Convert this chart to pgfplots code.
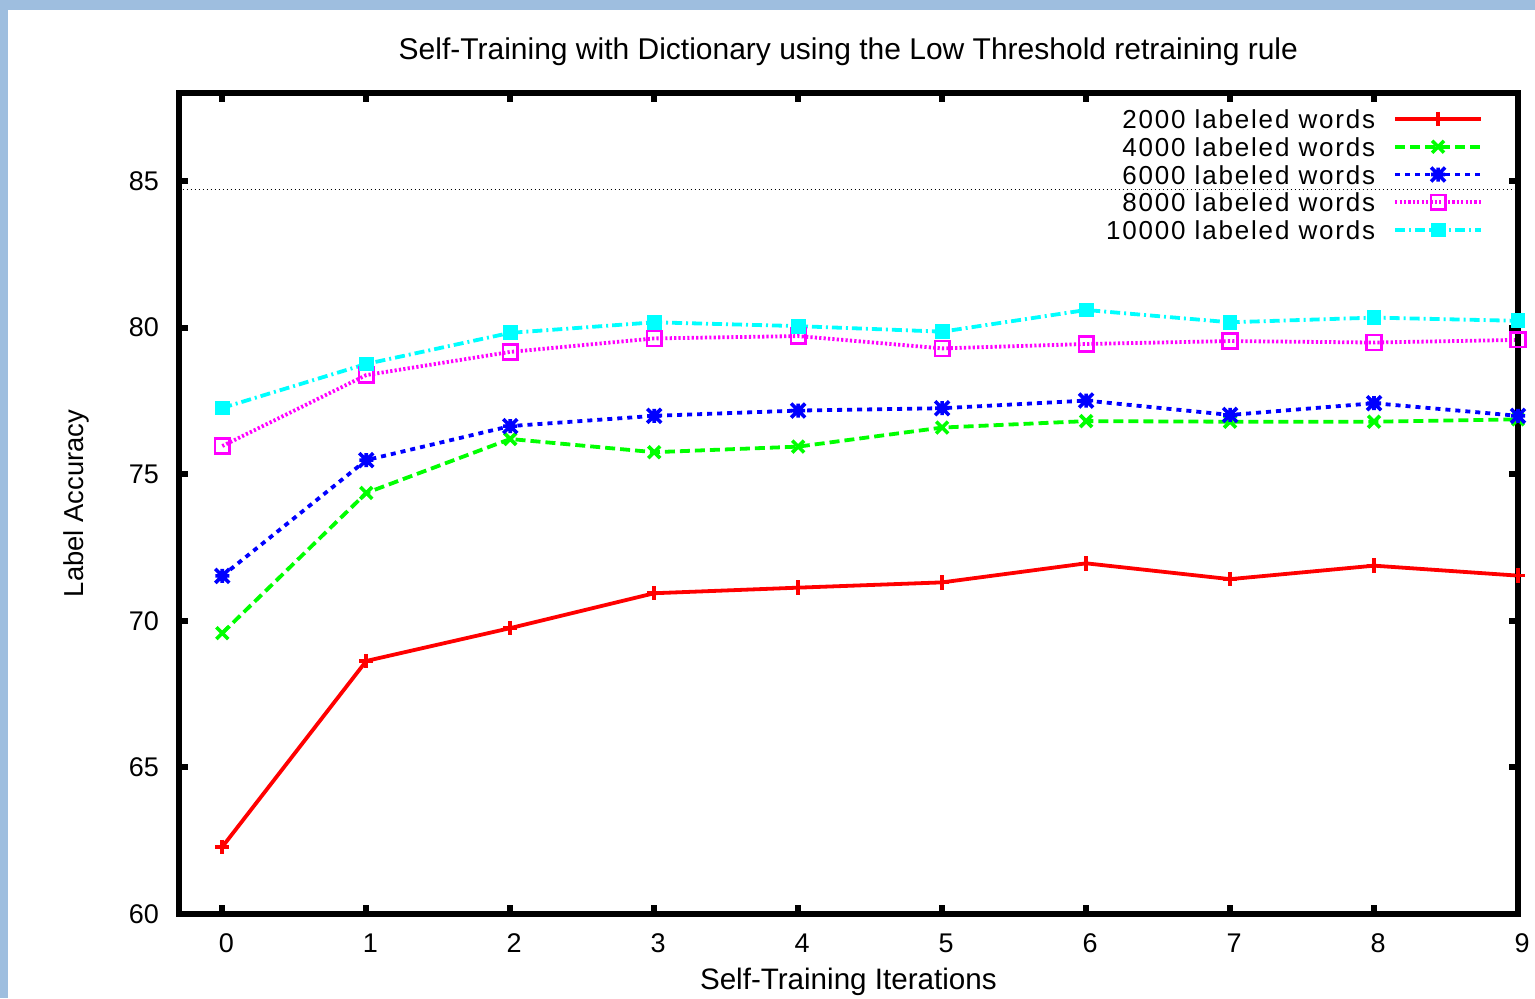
\documentclass[border=0pt]{standalone}
\usepackage{fontspec}
\setmainfont{Liberation Sans}
\newfontfamily\legfont{Liberation Sans}[LetterSpace=7]
\usepackage{pgfplots}
\pgfplotsset{compat=1.18}
\definecolor{bordblue}{HTML}{9EBEDF}
\definecolor{gpred}{RGB}{255,0,0}
\definecolor{gpgreen}{RGB}{0,255,0}
\definecolor{gpblue}{RGB}{0,0,255}
\definecolor{gpmagenta}{RGB}{255,0,255}
\definecolor{gpcyan}{RGB}{0,255,255}
\pgfdeclareplotmark{gpstar}{%
  \pgfpathmoveto{\pgfqpoint{-\pgfplotmarksize}{0pt}}\pgfpathlineto{\pgfqpoint{\pgfplotmarksize}{0pt}}%
  \pgfpathmoveto{\pgfqpoint{0pt}{-\pgfplotmarksize}}\pgfpathlineto{\pgfqpoint{0pt}{\pgfplotmarksize}}%
  \pgfpathmoveto{\pgfqpoint{-\pgfplotmarksize}{-\pgfplotmarksize}}\pgfpathlineto{\pgfqpoint{\pgfplotmarksize}{\pgfplotmarksize}}%
  \pgfpathmoveto{\pgfqpoint{-\pgfplotmarksize}{\pgfplotmarksize}}\pgfpathlineto{\pgfqpoint{\pgfplotmarksize}{-\pgfplotmarksize}}%
  \pgfusepathqstroke}
\begin{document}
\begin{tikzpicture}
\path[use as bounding box] (0,0) rectangle (767.5pt,499pt);
\fill[white] (0,0) rectangle (767.5pt,499pt);
\fill[bordblue] (0,494pt) rectangle (767.5pt,499pt);
\fill[bordblue] (0,0) rectangle (4pt,499pt);
\begin{axis}[
  at={(89.35pt,42pt)}, anchor=south west,
  scale only axis, width=669.65pt, height=410.5pt,
  xmin=-0.3028, xmax=9, ymin=60, ymax=88,
  xtick={0,...,9}, ytick={60,65,...,85},
  tick align=inside, major tick length=4.5pt,
  tick style={black, line width=3pt},
  axis line style={line width=3pt},
  axis on top,
  /pgf/number format/assume math mode=true,
  every axis title shift=0pt,
  xticklabel style={font=\fontsize{13.5}{16}\selectfont, anchor=base, yshift=-19.35pt, xshift=2pt, inner sep=0pt},
  yticklabel style={font=\fontsize{13.5}{16}\selectfont, anchor=east, xshift=-9.7pt, inner sep=0pt},
  title={Self-Training with Dictionary using the Low Threshold retraining rule},
  title style={font=\fontsize{15}{18}\selectfont, at={(axis description cs:0.5,1.0402)}, anchor=base, inner sep=0pt},
  xlabel={Self-Training Iterations},
  xlabel style={font=\fontsize{14.8}{18}\selectfont, at={(axis description cs:0.5,-0.0922)}, anchor=base, inner sep=0pt},
  ylabel={Label Accuracy},
  ylabel style={font=\fontsize{13.7}{16}\selectfont, at={(axis description cs:-0.07123,0.5)}, anchor=base, inner sep=0pt},
  legend style={at={(rel axis cs:1,1)}, anchor=north east, xshift=-17.5pt, yshift=-8.25pt,
    draw=none, fill=none, inner sep=0pt, outer sep=0pt, row sep=4.375pt, column sep=9pt,
    font=\legfont\fontsize{13}{15}\selectfont,
    nodes={inner sep=0pt, text height=9.5pt, text depth=0pt}},
  legend cell align=right, legend plot pos=right,
  legend image code/.code={\draw[mark repeat=2,mark phase=2] plot coordinates {(0pt,0pt) (21.5pt,0pt) (43pt,0pt)};},
]
\addplot[black, line width=0.5pt, dash pattern=on 0.5pt off 1.5pt, forget plot] coordinates {(-0.3028,84.7) (9,84.7)};
\addplot[gpred, line width=1.9pt, mark=+, mark size=3.6pt, mark options={solid, line width=1.8pt}] coordinates {
(0,62.29) (1,68.63) (2,69.75) (3,70.94) (4,71.13) (5,71.31) (6,71.96) (7,71.42) (8,71.88) (9,71.54)};
\addlegendentry{2000 labeled words}
\addplot[gpgreen, line width=1.9pt, dash pattern=on 5pt off 2.5pt, mark=x, mark size=4.2pt, mark options={solid, line width=1.8pt}] coordinates {
(0,69.58) (1,74.36) (2,76.20) (3,75.75) (4,75.94) (5,76.59) (6,76.81) (7,76.79) (8,76.79) (9,76.87)};
\addlegendentry{4000 labeled words}
\addplot[gpblue, line width=1.9pt, dash pattern=on 2.5pt off 2.5pt, mark=gpstar, mark size=3.5pt, mark options={solid, line width=1.8pt}] coordinates {
(0,71.53) (1,75.48) (2,76.64) (3,76.99) (4,77.17) (5,77.25) (6,77.51) (7,77.02) (8,77.42) (9,76.99)};
\addlegendentry{6000 labeled words}
\addplot[gpmagenta, line width=1.9pt, dash pattern=on 1.1pt off 1.1pt, mark=square, mark size=3.7pt, mark options={solid, line width=1.2pt}] coordinates {
(0,75.96) (1,78.38) (2,79.17) (3,79.63) (4,79.71) (5,79.29) (6,79.44) (7,79.54) (8,79.49) (9,79.58)};
\addlegendentry{8000 labeled words}
\addplot[gpcyan, line width=1.9pt, dash pattern=on 5pt off 2pt on 1pt off 2pt, mark=square*, mark size=3.4pt, mark options={solid, line width=0.6pt, fill=gpcyan}] coordinates {
(0,77.26) (1,78.76) (2,79.82) (3,80.18) (4,80.05) (5,79.86) (6,80.60) (7,80.18) (8,80.34) (9,80.23)};
\addlegendentry{10000 labeled words}
\end{axis}
\end{tikzpicture}
\end{document}
